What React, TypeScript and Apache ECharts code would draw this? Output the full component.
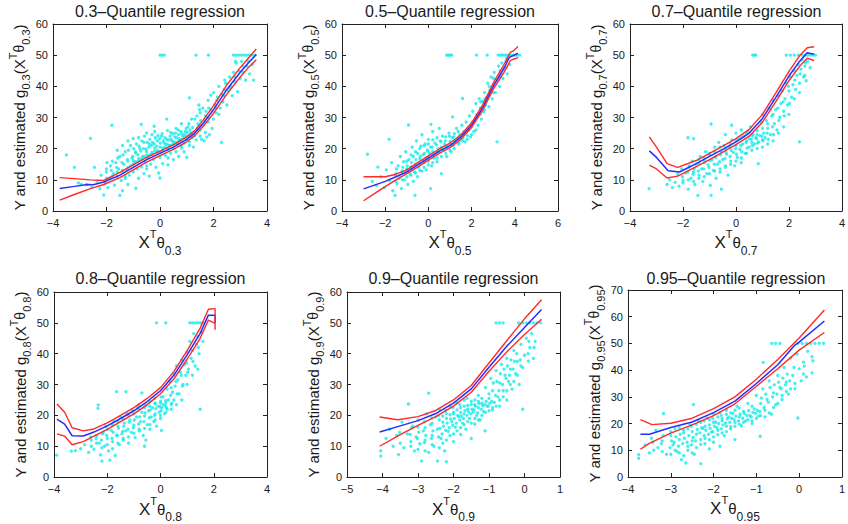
import React, { useEffect, useRef } from 'react';
import * as echarts from 'echarts';

// ---------- data ----------
const quantiles = ['0.3', '0.5', '0.7', '0.8', '0.9', '0.95'];
const xMins = [-4, -4, -4, -4, -5, -4];
const xMaxs = [4, 6, 4, 4, 1, 1];
const xSteps = [2, 2, 2, 2, 1, 1];
const yMaxs = [60, 60, 60, 60, 60, 70];
const ySteps = [10, 10, 10, 10, 10, 10];

const pts03 = [[-3.5,18],[-3.2,14],[-3.05,9],[-2.95,8.6],[-2.75,8.5],[-2.6,23.3],[-2.55,7.6],[-2.45,14],[-2.35,9.5],[-2.25,7.2],[-2.2,11.5],[-2.1,5.1],[-2.05,9],[-2,12.5],[-1.95,7.5],[-1.9,10.5],[-1.85,14.5],[-1.8,27.5],[-1.75,12],[-1.7,8.3],[-1.65,15.5],[-1.6,11],[-1.55,13.5],[-1.5,5],[-1.5,17.5],[-1.45,9.8],[-1.4,6.5],[-1.4,12.8],[-1.35,15],[-1.3,10.5],[-1.3,19],[-1.25,13.2],[-1.2,8.5],[-1.2,16],[-1.15,11.5],[-1.1,14.5],[-1.1,21],[-1.05,17],[-1,12.5],[-1,23.2],[-0.95,15.5],[-0.9,7.3],[-0.9,18.5],[-0.85,13.5],[-0.8,16.8],[-0.8,10.5],[-0.75,20],[-0.7,14.2],[-0.7,27.8],[-0.65,17.5],[-0.6,12],[-0.6,22],[-0.55,15.8],[-0.5,19],[-0.5,13.5],[-0.45,17],[-0.4,21.5],[-0.4,11.2],[-0.35,15],[-0.3,18.2],[-0.3,24.5],[-0.25,16.5],[-0.22,27.2],[-0.2,20.2],[-0.15,14],[-0.1,18.8],[-0.1,22.5],[-0.05,12.2],[0,17.2],[0,10.6],[0,20.5],[0.05,24],[0.1,19.5],[0.1,15.2],[0.15,21.8],[0.2,17.8],[0.25,29.5],[0.25,23],[0.3,19.8],[0.3,14.8],[0.35,21],[0.4,25.2],[0.4,18.5],[0.45,22.4],[0.5,20],[0.5,16.5],[0.55,23.8],[0.6,19],[0.6,26.5],[0.65,21.5],[0.7,24.5],[0.7,17.5],[0.75,22.5],[0.8,20.3],[0.8,28],[0.85,24],[0.9,21.8],[0.9,19],[0.95,25.5],[1,23],[1,17.2],[1.05,27],[1.1,36.3],[1.1,22.2],[1.15,25],[1.2,23.5],[1.25,20.5],[1.3,24.2],[1.3,29.5],[1.35,22.8],[1.4,26.5],[1.45,34],[1.5,24],[1.5,31.5],[1.55,23],[1.6,27.5],[1.6,33],[1.65,22.5],[1.7,25.2],[1.7,30.5],[1.75,23.8],[1.8,35.5],[1.8,28.5],[1.85,24.5],[1.9,32.5],[1.9,37.2],[1.95,26.5],[2,38],[2,29.5],[2.05,34],[2.1,31.5],[2.15,36.5],[2.2,40],[2.25,33],[2.3,22],[2.3,37.5],[2.35,35],[2.4,39],[2.45,41],[2.5,34],[2.55,38.5],[2.6,43],[2.65,40],[2.7,37],[2.75,44.5],[2.8,41.5],[2.85,47.5],[2.9,38.3],[2.95,45],[3,42.5],[3.05,48],[3.1,44.5],[3.2,42],[3.25,46.5],[3.35,44],[3.45,47],[3.5,42],[0,50],[0.08,50],[0.16,50],[1.35,50],[1.81,50],[2.75,50],[2.85,50],[2.95,50],[3.05,50],[3.15,50],[3.25,50],[3.35,50],[3.45,50],[3.55,50]];
const core03 = [[-2,10.5],[-2,13.5],[-1.98,15.5],[-1.8,11],[-1.82,13],[-1.78,16],[-1.6,12.5],[-1.62,14],[-1.58,17],[-1.6,19.5],[-1.4,13],[-1.42,15.5],[-1.38,18],[-1.4,21],[-1.2,14],[-1.22,16.5],[-1.18,19.5],[-1.2,22.5],[-1,15],[-1.02,17.5],[-0.98,20],[-1,16.2],[-0.9,15.8],[-0.92,19],[-0.88,21.5],[-0.8,16],[-0.82,18],[-0.78,20.8],[-0.8,23.5],[-0.7,16.8],[-0.72,19.2],[-0.68,22.5],[-0.6,17.5],[-0.62,20],[-0.58,24],[-0.5,17.8],[-0.52,19.8],[-0.48,22],[-0.5,25],[-0.4,18],[-0.42,20.5],[-0.38,23],[-0.3,18.8],[-0.32,21],[-0.28,22],[-0.2,19.2],[-0.22,21.5],[-0.18,23.5],[-0.2,25.5],[-0.1,19.5],[-0.12,20.8],[-0.08,24.2],[0.02,19],[0.01,21.8],[-0.02,23.2],[0.1,20.2],[0.12,22.5],[0.08,24.8],[0.2,20.5],[0.22,21.5],[0.18,23.5],[0.3,21.2],[0.32,22.8],[0.28,25.8],[0.4,21],[0.42,23],[0.38,24],[0.5,21.5],[0.52,22.2],[0.48,24.8],[0.6,22],[0.62,23.5],[0.58,25],[0.7,22.5],[0.72,23.2],[0.68,26],[0.8,23],[0.82,24.8],[0.78,25.5],[0.9,23.5],[0.92,24.5],[1,24],[1.02,25.2],[0.98,26.5],[1.1,24.2],[1.12,26],[1.08,28],[1.2,25],[1.22,26.8],[1.18,29.5],[1.4,26.2],[1.42,28],[1.38,30.5],[1.5,27],[1.52,29],[1.48,32.5],[1.7,28.5],[1.72,32],[1.8,30],[1.82,33],[2.1,33],[2.12,35.5],[2.4,37],[2.42,42],[2.6,39.5],[2.8,43],[2.82,48],[3.1,46.5],[3.3,48],[-0.5,14.5],[0.3,17],[0.8,21],[1.1,21],[1.5,26],[2.2,31],[-1.3,11]];
const fit03 = [[-3.75,7.2],[-3.2,7.9],[-2.7,8.5],[-2.5,8.4],[-2.1,9.3],[-1.5,11.5],[-1,14],[-0.5,16.5],[0,18.5],[0.5,20.5],[1,23],[1.3,25],[1.6,28],[2,32.5],[2.5,39],[3,44.5],[3.3,47.5],[3.6,50.2]];
const up03 = [[-3.75,10.7],[-3.2,10.4],[-2.6,10],[-2.1,9.8],[-1.5,12.4],[-1,14.8],[-0.5,17.2],[0,19.2],[0.5,21.2],[1,23.8],[1.3,25.8],[1.6,29],[2,33.8],[2.5,40.5],[3,46],[3.3,49],[3.6,52]];
const lo03 = [[-3.75,3.5],[-3.2,5.3],[-2.6,7.2],[-2.1,8.5],[-1.5,10.7],[-1,13.2],[-0.5,15.7],[0,17.8],[0.5,19.8],[1,22.2],[1.3,24.2],[1.6,27],[2,31.3],[2.5,37.5],[3,43],[3.3,46],[3.6,48.5]];

const pts05 = [[-2.82,18.2],[-2.34,14.1],[-2.6,9.5],[-2.4,8.2],[-2.2,11],[-2.05,7.5],[-1.95,13.2],[-1.82,23],[-1.8,9.8],[-1.7,15.5],[-1.65,6.5],[-1.54,5],[-1.5,12],[-1.45,8.8],[-1.4,14.5],[-1.35,10.5],[-1.3,17.5],[-1.25,7.2],[-1.2,12.8],[-1.15,15.8],[-1.1,10],[-1.05,19],[-1,13.5],[-0.95,8.5],[-0.92,27.6],[-0.9,16.5],[-0.85,11.8],[-0.8,14.2],[-0.75,20.5],[-0.7,9.5],[-0.7,17.5],[-0.65,12.5],[-0.62,5],[-0.6,15],[-0.55,22.5],[-0.5,18.5],[-0.5,11],[-0.45,14],[-0.4,16.8],[-0.35,20.8],[-0.3,12.8],[-0.3,24.5],[-0.25,18],[-0.2,15.5],[-0.15,21.5],[-0.1,17],[-0.1,13.2],[-0.05,19.5],[0,16],[0,23],[0.05,18.5],[0.1,7.2],[0.1,20.5],[0.12,27.8],[0.15,14.5],[0.2,19],[0.2,25.5],[0.25,17],[0.3,21.8],[0.35,18.2],[0.4,23.5],[0.4,15.8],[0.45,20],[0.5,26.5],[0.5,18.8],[0.55,22.5],[0.6,20.5],[0.6,12],[0.65,24],[0.7,19.5],[0.75,21.5],[0.8,23.8],[0.85,17.5],[0.9,20.8],[0.95,25],[1,22.3],[1.05,19],[1.1,23.5],[1.12,30.2],[1.15,21],[1.2,24.8],[1.25,22],[1.3,26.5],[1.35,23.2],[1.4,21.5],[1.45,24.5],[1.5,22.8],[1.55,27.5],[1.58,36.1],[1.6,23.5],[1.65,25.5],[1.7,22.2],[1.75,28.5],[1.8,24.2],[1.85,26],[1.9,30.5],[1.95,23.8],[2,27.2],[2.05,32],[2.1,25.5],[2.15,29],[2.2,34.5],[2.25,31],[2.3,27.5],[2.35,36],[2.4,33],[2.45,29.5],[2.5,35.2],[2.55,31.8],[2.6,38],[2.65,34],[2.7,36.5],[2.75,41],[2.8,33.5],[2.85,38.8],[2.9,43],[2.95,36],[3,40.5],[3.05,44.5],[3.1,38],[3.18,22.2],[3.2,42],[3.25,46.5],[3.3,40],[3.35,44],[3.4,47.5],[3.45,42.5],[3.5,45.8],[3.6,48.2],[3.65,44],[3.75,47],[0.85,50],[0.93,50],[1,50],[1.08,50],[2.23,50],[2.72,50],[3.23,50],[3.33,50],[3.43,50],[3.53,50],[3.63,50],[3.73,50],[3.83,50],[3.93,50],[4.03,50],[4.13,50],[4.23,50]];
const core05 = [[-1.5,9.5],[-1.52,11.5],[-1.48,13.5],[-1.2,10],[-1.22,12.5],[-1.18,14],[-1,11],[-1.02,13],[-0.98,14.5],[-1,16],[-0.8,11.5],[-0.82,13.8],[-0.78,15.5],[-0.8,18],[-0.6,12.2],[-0.62,14.5],[-0.58,16.5],[-0.6,19],[-0.4,13],[-0.42,15.2],[-0.38,17.5],[-0.4,20],[-0.2,14],[-0.22,16.2],[-0.18,18.5],[-0.2,21],[0,14.8],[0.02,17.5],[-0.02,19.2],[0,21.5],[0.2,15.5],[0.22,17.8],[0.18,20.5],[0.2,22.8],[0.4,17],[0.42,19],[0.38,21.2],[0.6,17.5],[0.62,19.8],[0.58,22.2],[0.8,18.5],[0.82,20.5],[0.78,22.5],[1,19.5],[1.02,21.5],[0.98,24],[1.2,20],[1.22,22.5],[1.18,23.8],[1.4,22],[1.42,23.8],[1.38,25.5],[1.6,22.5],[1.62,24.8],[1.8,23],[1.82,26.5],[2,24.5],[2.02,28.5],[2.2,26],[2.22,30],[2.4,31],[2.42,35],[2.6,32.5],[2.62,36],[2.8,37],[2.82,40],[3,38],[3.02,42.5],[3.3,43],[3.32,45],[3.6,46],[3.62,49]];
const fit05 = [[-3,7.1],[-2.5,8.3],[-2,9.5],[-1.5,11],[-1,12.5],[-0.5,14.8],[0,17],[0.5,19.2],[1,21],[1.5,23.7],[2,27.5],[2.5,33],[3,40],[3.5,45.8],[3.75,49.3],[4.15,50.6]];
const up05 = [[-3,11],[-2.5,11],[-2,11],[-1.5,11.8],[-1,13.2],[-0.5,15.5],[0,17.7],[0.5,19.9],[1,21.8],[1.5,24.4],[2,28.3],[2.5,33.9],[3,41],[3.5,47],[3.8,51],[3.9,51.2],[4.15,52.8]];
const lo05 = [[-3,3.3],[-2.5,5.6],[-2,7.8],[-1.5,10],[-1,12],[-0.5,14.1],[0,16.3],[0.5,18.5],[1,20.3],[1.5,23],[2,26.8],[2.5,32.2],[3,39],[3.5,44.5],[3.8,48.3],[3.9,48.6],[4.15,49.2]];

const pts07 = [[-3.28,7.2],[-2.6,8.5],[-2.5,10],[-2.4,7.5],[-2.3,9.2],[-2.2,11.8],[-2.15,8],[-2.05,13.5],[-2,9.8],[-1.9,12.2],[-1.81,23.5],[-1.8,7],[-1.75,14.5],[-1.7,10.5],[-1.65,16],[-1.6,23.2],[-1.6,12.5],[-1.55,8.5],[-1.5,15],[-1.44,5],[-1.4,11.5],[-1.35,17.5],[-1.3,13.5],[-1.25,9.5],[-1.2,16.2],[-1.15,19],[-1.1,12],[-1.05,14.8],[-1,18],[-0.97,8.2],[-0.94,5],[-0.94,27.9],[-0.9,16.5],[-0.85,13],[-0.8,20.5],[-0.75,10.5],[-0.75,17.5],[-0.7,15],[-0.65,22],[-0.6,12.5],[-0.55,19],[-0.55,7],[-0.5,16.5],[-0.45,21],[-0.4,14],[-0.4,24.5],[-0.35,18.2],[-0.3,11.5],[-0.25,20.5],[-0.2,16],[-0.16,27.5],[-0.15,22.8],[-0.1,18.8],[-0.05,14.5],[0,21],[0,25],[0.05,17.2],[0.1,23],[0.15,19.8],[0.2,26],[0.2,15.5],[0.25,21.5],[0.3,24],[0.35,18.5],[0.4,22.5],[0.45,25.5],[0.5,20.5],[0.5,23.2],[0.55,27],[0.6,22],[0.65,24.5],[0.7,21.5],[0.75,23.5],[0.8,25.8],[0.84,15.2],[0.85,22.2],[0.9,24.2],[0.95,28.5],[1,22.8],[1,31],[1.05,25],[1.1,23.5],[1.15,29],[1.2,26.5],[1.25,33],[1.3,24.5],[1.35,30.5],[1.4,35.5],[1.45,28],[1.5,32.5],[1.55,26],[1.6,37],[1.65,30],[1.7,34.5],[1.75,38.5],[1.8,32],[1.85,36],[1.9,41],[1.95,34],[2,38.5],[2.05,43],[2.1,36.5],[2.15,40.5],[2.2,45],[2.25,39],[2.3,43.5],[2.35,47],[2.4,22.2],[2.4,41],[2.45,45.5],[2.5,48.5],[2.55,43],[2.6,46.5],[2.65,41.8],[2.7,48],[2.8,46],[0.63,50],[0.7,50],[0.75,50],[1.9,50],[2.05,50],[2.2,50],[2.35,50],[2.5,50],[2.6,50],[2.7,50],[2.8,50],[2.9,50],[3,50]];
const core07 = [[-2,9],[-2.02,11],[-1.8,10],[-1.82,12.5],[-1.78,14],[-1.6,9.5],[-1.62,11.8],[-1.58,13.5],[-1.4,10.5],[-1.42,12.8],[-1.38,15.2],[-1.4,16.5],[-1.2,11],[-1.22,13.5],[-1.18,15.5],[-1.2,17],[-1,12],[-1.02,14],[-0.98,16.2],[-1,18.5],[-0.8,12.8],[-0.82,15],[-0.78,17.2],[-0.8,19],[-0.6,13.5],[-0.62,15.8],[-0.58,18],[-0.6,20.5],[-0.4,14.5],[-0.42,16.8],[-0.38,18.8],[-0.4,20],[-0.2,15],[-0.22,17.5],[-0.18,19.5],[-0.2,21.5],[0,16],[0.02,18.2],[-0.02,20],[0,22.5],[0.2,17],[0.22,19],[0.18,21],[0.2,23.5],[0.4,18.5],[0.42,20.2],[0.38,22],[0.4,24.8],[0.6,19.5],[0.62,21],[0.58,23],[0.6,24.2],[0.8,20],[0.82,21.8],[0.78,23.2],[0.8,24.5],[1,20.5],[1.02,22.5],[0.98,24],[1,26.5],[1.2,21.5],[1.22,23],[1.18,25],[1.2,28],[1.4,22.5],[1.42,24.5],[1.38,27],[1.4,31],[1.6,25],[1.62,29],[1.58,33],[1.8,27],[1.82,30.5],[1.78,35],[2,31],[2.02,34.5],[1.98,40],[2.2,36],[2.22,42],[2.4,38],[2.42,44],[2.6,43.5],[2.62,47.5]];
const fit07 = [[-3.27,19.3],[-3,17.2],[-2.56,12.9],[-2.13,12.5],[-1.5,15.2],[-1,17.5],[-0.5,19.8],[0,22.2],[0.5,25],[1,29.7],[1.5,36.4],[2,43.3],[2.4,48],[2.69,50.8],[2.95,50.3]];
const up07 = [[-3.27,23.8],[-3,20.5],[-2.6,15.2],[-2.2,14],[-1.5,16.2],[-1,18.5],[-0.5,20.8],[0,23.2],[0.5,26.2],[1,31],[1.5,37.8],[2,44.8],[2.4,49.8],[2.69,52.4],[2.95,52.7]];
const lo07 = [[-3.27,14.7],[-3,13.5],[-2.6,10.6],[-2.2,11.2],[-1.5,14.2],[-1,16.5],[-0.5,18.9],[0,21.3],[0.5,24],[1,28.5],[1.5,35],[2,41.8],[2.4,46.4],[2.69,49],[2.95,48.3]];

const pts08 = [[-3.9,7.1],[-3.35,8.4],[-3.2,8.6],[-3,9.2],[-2.85,10.5],[-2.7,8],[-2.6,12],[-2.5,9],[-2.4,13.5],[-2.34,23.4],[-2.35,22.3],[-2.3,11],[-2.25,7.2],[-2.2,5.2],[-2.15,14.5],[-2.1,10],[-2.05,16.5],[-2,12.5],[-1.95,8.5],[-1.9,5.5],[-1.85,15.2],[-1.8,11.5],[-1.75,18],[-1.7,7],[-1.65,27.7],[-1.65,13.5],[-1.6,16.5],[-1.55,10.5],[-1.5,19.5],[-1.45,14],[-1.4,12],[-1.35,17.5],[-1.3,27.7],[-1.3,15],[-1.25,20.5],[-1.2,11],[-1.15,18.5],[-1.1,14.5],[-1.05,21.5],[-1,16.8],[-0.95,12.8],[-0.9,19.5],[-0.85,22.5],[-0.8,15.5],[-0.75,18],[-0.7,27.3],[-0.7,21],[-0.65,13.5],[-0.6,10],[-0.6,19.8],[-0.55,23.2],[-0.55,12],[-0.5,17],[-0.45,21.5],[-0.4,24.5],[-0.4,15.5],[-0.35,19.5],[-0.3,22.5],[-0.25,18],[-0.2,24],[-0.2,20.5],[-0.15,16.5],[-0.1,23],[-0.05,21],[0,24.5],[0,19],[0.04,15.1],[0.05,22.5],[0.1,26],[0.1,23.5],[0.15,20.5],[0.2,24.2],[0.25,28.5],[0.25,22],[0.3,25],[0.35,31],[0.4,23.5],[0.45,27.5],[0.5,33.5],[0.5,25],[0.55,29.5],[0.6,36],[0.65,31.5],[0.7,27],[0.75,34],[0.8,38],[0.85,30],[0.9,36.5],[0.95,33],[1,40.5],[1.05,35],[1.1,44],[1.15,38.5],[1.2,41],[1.25,46.5],[1.3,36],[1.35,43],[1.4,45.5],[1.45,40],[1.49,22],[1.55,47],[1.6,44],[-0.15,50],[0.2,50],[1.1,50],[1.2,50],[1.3,50],[1.4,50],[1.5,50],[1.6,50]];
const core08 = [[-2.6,10],[-2.62,13],[-2.4,11],[-2.42,12.5],[-2.2,9.5],[-2.22,12],[-2.18,14],[-2,10.5],[-2.02,13.5],[-1.98,15.5],[-1.8,9.2],[-1.82,12.5],[-1.78,14.5],[-1.8,16.8],[-1.6,11],[-1.62,13.5],[-1.58,15.8],[-1.6,18],[-1.4,12.5],[-1.42,14.8],[-1.38,16.5],[-1.4,18.8],[-1.2,13],[-1.22,15.5],[-1.18,17.8],[-1.2,20],[-1,14.2],[-1.02,16],[-0.98,18.5],[-1,20.5],[-0.8,15],[-0.82,17.2],[-0.78,19.5],[-0.8,21.8],[-0.82,23.5],[-0.6,15.8],[-0.62,18],[-0.58,20.8],[-0.6,22.5],[-0.4,17],[-0.42,19.2],[-0.38,21.8],[-0.4,23],[-0.2,18.5],[-0.22,20],[-0.18,22.2],[-0.2,23.8],[-0.22,25.5],[0,20],[0.02,21.5],[-0.02,22.8],[0,24],[0.02,26],[0.2,21],[0.22,22.5],[0.18,23.2],[0.2,24.8],[0.4,22],[0.42,24],[0.38,26.5],[0.4,29],[0.6,23.5],[0.62,27],[0.58,31],[0.8,25],[0.82,29.5],[0.78,33],[1,30],[1.02,34],[0.98,37],[1.2,33],[1.22,37.5],[1.4,35],[1.42,42]];
const fit08 = [[-3.89,18.8],[-3.6,17.2],[-3.32,13.4],[-2.9,13.3],[-2.5,14.6],[-2,16.6],[-1.5,19],[-1,21.5],[-0.5,24.5],[0,28],[0.5,33],[1,39.6],[1.49,46.6],[1.8,52.5],[2.05,52.5],[2.05,50]];
const up08 = [[-3.89,23.7],[-3.6,21],[-3.32,16],[-2.9,15],[-2.5,15.6],[-2,17.6],[-1.5,20],[-1,22.5],[-0.5,25.5],[0,29],[0.5,34.2],[1,41],[1.49,48.3],[1.8,54.4],[2.05,54.6],[2.05,47.8]];
const lo08 = [[-3.89,14],[-3.6,13.3],[-3.32,10.5],[-2.9,11.5],[-2.5,13.3],[-2,15.5],[-1.5,18],[-1,20.5],[-0.5,23.5],[0,27],[0.5,31.8],[1,38.2],[1.49,45],[1.8,50.9],[2.05,49.8]];

const pts09 = [[-4.05,6.8],[-4.05,8.5],[-3.9,12.5],[-3.8,15.5],[-3.7,10],[-3.6,13.5],[-3.55,7.3],[-3.45,17.8],[-3.4,9.5],[-3.3,14],[-3.27,23.7],[-3.2,11.5],[-3.15,16.5],[-3.1,8.5],[-3.05,13],[-3,18.5],[-2.95,10.8],[-2.9,5.2],[-2.85,15],[-2.8,12],[-2.75,20.5],[-2.7,27.2],[-2.7,8],[-2.65,17],[-2.6,13.5],[-2.55,10],[-2.5,19.5],[-2.45,5.2],[-2.45,15.5],[-2.4,22],[-2.35,12.5],[-2.3,17.8],[-2.25,8.5],[-2.2,20.5],[-2.2,5],[-2.15,14.8],[-2.1,23],[-2.05,18],[-2,11.5],[-2,21],[-1.95,16.2],[-1.9,24],[-1.85,19.5],[-1.8,13.8],[-1.8,22.5],[-1.75,17.5],[-1.7,25],[-1.7,20.5],[-1.65,15.5],[-1.6,22],[-1.55,19],[-1.5,24.5],[-1.5,12.5],[-1.45,21],[-1.4,17.2],[-1.4,23.5],[-1.35,20],[-1.3,26.5],[-1.3,22.5],[-1.25,18.5],[-1.2,24],[-1.15,21.2],[-1.11,15],[-1.1,29],[-1.05,23],[-1,25.5],[-0.95,32],[-0.9,21.8],[-0.9,28],[-0.85,24.2],[-0.8,34.5],[-0.75,26],[-0.7,30.5],[-0.7,23],[-0.65,36.5],[-0.6,28],[-0.55,33],[-0.5,25],[-0.5,38.5],[-0.45,31],[-0.4,35],[-0.35,28.5],[-0.3,41],[-0.25,33.5],[-0.2,37.5],[-0.15,30],[-0.1,43],[-0.05,35.5],[-0.05,22],[0,39.5],[0.05,45],[0.11,37.6],[0.15,42],[0.2,46.5],[0.3,44],[-0.8,50],[-0.7,50],[-0.6,50],[-0.17,50],[-0.05,50],[0.05,50],[0.15,50],[0.25,50],[0.35,50],[0.45,50]];
const core09 = [[-3.5,11],[-3.52,14.5],[-3.2,10],[-3.22,13.8],[-3.18,16],[-3,9],[-3.02,12.5],[-2.98,14.5],[-3,16.2],[-2.8,8.5],[-2.82,11.2],[-2.78,13.5],[-2.8,16],[-2.82,18],[-2.6,10.5],[-2.62,12.5],[-2.58,15],[-2.6,17.5],[-2.62,19.2],[-2.4,9.5],[-2.42,13],[-2.38,15.8],[-2.4,18.5],[-2.42,20],[-2.3,11],[-2.32,14],[-2.28,16.5],[-2.3,19.8],[-2.2,12],[-2.22,15.2],[-2.18,17.5],[-2.2,19],[-2.22,21.5],[-2.1,13.5],[-2.12,16],[-2.08,18.8],[-2.1,20.2],[-2,14],[-2.02,16.8],[-1.98,19],[-2,20.5],[-2.02,22.5],[-1.9,15],[-1.92,17.5],[-1.88,20],[-1.9,21.8],[-1.8,16],[-1.82,18.5],[-1.78,19.8],[-1.8,21],[-1.82,23.5],[-1.7,17],[-1.72,19],[-1.68,21.5],[-1.7,23],[-1.6,18],[-1.62,20],[-1.58,21.2],[-1.6,23.2],[-1.62,25.5],[-1.5,17.5],[-1.52,20.5],[-1.48,22],[-1.5,23.5],[-1.4,19],[-1.42,21.8],[-1.38,23],[-1.4,25],[-1.3,18.5],[-1.32,20.8],[-1.28,23.8],[-1.3,24.5],[-1.2,20],[-1.22,22],[-1.18,23.2],[-1.2,25.5],[-1.1,21],[-1.12,23.5],[-1.08,24.5],[-1,21.5],[-1.02,23],[-0.98,24],[-1,27],[-0.9,22.5],[-0.92,24.5],[-0.88,30.5],[-0.8,23],[-0.82,26.5],[-0.78,31],[-0.7,25],[-0.72,28],[-0.68,33.5],[-0.6,26],[-0.62,30],[-0.58,35],[-0.5,28],[-0.52,32],[-0.48,36],[-0.4,30],[-0.42,33],[-0.38,38],[-0.3,31],[-0.32,35],[-0.28,37.5],[-0.2,33],[-0.22,40],[-0.1,36],[-0.12,38],[0.1,40],[0.12,44],[0.25,38.5],[0.27,42]];
const fit09 = [[-4.08,14.6],[-3.5,16.6],[-3,18.3],[-2.5,20.6],[-2,24],[-1.5,28.6],[-1,35.6],[-0.5,42.4],[0,48.5],[0.48,54.3]];
const up09 = [[-4.08,19.5],[-3.57,18.6],[-3,19.6],[-2.5,21.6],[-2,25],[-1.5,29.7],[-1,37],[-0.5,44.2],[0,51.3],[0.48,57.5]];
const lo09 = [[-4.08,10],[-3.5,13.8],[-3,16.8],[-2.5,19.6],[-2,23],[-1.5,27.5],[-1,34.3],[-0.5,40.6],[0,46.2],[0.48,51.2]];

const pts095 = [[-3.75,8.4],[-3.75,7],[-3.6,12],[-3.5,9],[-3.45,14.5],[-3.35,17.5],[-3.3,11],[-3.2,13.5],[-3.17,23.75],[-3.1,8.5],[-3,15.5],[-2.95,12],[-2.9,18],[-2.85,9.5],[-2.8,14],[-2.75,6.5],[-2.7,16.5],[-2.65,5.25],[-2.6,11.5],[-2.55,19.5],[-2.5,13.5],[-2.47,27.1],[-2.45,8.5],[-2.4,16],[-2.35,21],[-2.3,5],[-2.3,12.2],[-2.25,18.2],[-2.2,14.5],[-2.15,22],[-2.1,10.5],[-2.1,19.5],[-2.05,16.8],[-2,13],[-2,23.5],[-1.95,20.5],[-1.9,17.5],[-1.85,24],[-1.85,11.5],[-1.8,21.8],[-1.75,15.5],[-1.7,19],[-1.7,25],[-1.65,22.5],[-1.6,18],[-1.55,23.8],[-1.5,20.5],[-1.5,14],[-1.45,26.5],[-1.4,22.5],[-1.35,19.2],[-1.3,24.5],[-1.25,21],[-1.2,27.5],[-1.15,23],[-1.1,20],[-1.05,25.5],[-1,30.5],[-0.95,22.8],[-0.91,15.25],[-0.9,27.5],[-0.85,33],[-0.84,42.9],[-0.8,25],[-0.75,29],[-0.7,36],[-0.65,23.5],[-0.6,31.5],[-0.55,27],[-0.5,38],[-0.45,33.5],[-0.4,29],[-0.35,41],[-0.3,35.5],[-0.25,31],[-0.2,44.5],[-0.15,38],[-0.1,33],[-0.05,46],[-0.03,22.1],[0,40.5],[0.05,36],[0.1,43],[0.17,37.5],[0.2,47],[0.3,45],[-0.64,50],[-0.55,50],[-0.45,50],[-0.03,50],[0.07,50],[0.17,50],[0.27,50],[0.37,50],[0.47,50],[0.57,50]];
const core095 = [[-3.4,10],[-3.42,13],[-3.2,9.5],[-3.22,12.5],[-3.18,15.5],[-3,8.5],[-3.02,11],[-2.98,13.5],[-3,17],[-2.9,10],[-2.92,13],[-2.88,15],[-2.8,9],[-2.82,11.5],[-2.78,16],[-2.8,18.5],[-2.7,8],[-2.72,12.5],[-2.68,14.5],[-2.7,17.5],[-2.6,10],[-2.62,13],[-2.58,15.5],[-2.6,18],[-2.5,9],[-2.52,12],[-2.48,14.8],[-2.5,17],[-2.52,19],[-2.4,11],[-2.42,13.5],[-2.38,17.8],[-2.4,19.8],[-2.3,14],[-2.32,16.5],[-2.28,18.5],[-2.3,20.5],[-2.2,12.5],[-2.22,15.5],[-2.18,17.5],[-2.2,19],[-2.22,21],[-2.1,14],[-2.12,16],[-2.08,18.2],[-2.1,21.5],[-2,15],[-2.02,17],[-1.98,19],[-2,20.5],[-2.02,22],[-1.9,15.8],[-1.92,18.5],[-1.88,20],[-1.9,22.5],[-1.8,16.5],[-1.82,18],[-1.78,19.5],[-1.8,21],[-1.82,23],[-1.7,17],[-1.72,20.2],[-1.68,21.8],[-1.7,23.5],[-1.6,18.8],[-1.62,20.5],[-1.58,22],[-1.6,24],[-1.5,19],[-1.52,21.5],[-1.48,22.8],[-1.5,25],[-1.4,19.8],[-1.42,21],[-1.38,23.5],[-1.4,25.8],[-1.3,20.5],[-1.32,22],[-1.28,23.8],[-1.2,21.5],[-1.22,23],[-1.18,24.8],[-1.1,21],[-1.12,22.5],[-1.08,24.2],[-1.1,26.5],[-1,22],[-1.02,23.8],[-0.98,25],[-0.9,23],[-0.92,24.5],[-0.88,29.5],[-0.8,22.5],[-0.82,26],[-0.78,31],[-0.7,24],[-0.72,28],[-0.68,33.5],[-0.6,26],[-0.62,30],[-0.58,34.5],[-0.5,27.5],[-0.52,31],[-0.48,35.5],[-0.4,30.5],[-0.42,33],[-0.38,37],[-0.3,32],[-0.32,34.5],[-0.28,38.5],[-0.2,33],[-0.22,36],[-0.1,35],[-0.12,41],[0.1,38.5],[0.12,41.5],[0.3,39],[0.32,43.5]];
const fit095 = [[-3.71,16],[-3.5,16],[-3,18.5],[-2.5,20.6],[-2,24.1],[-1.5,28.4],[-1,35],[-0.5,42],[-0.1,49.4],[0,50.5],[0.59,58.4]];
const up095 = [[-3.71,21.5],[-3.44,19.6],[-3,20.1],[-2.5,22],[-2,25.6],[-1.5,30],[-1,36.6],[-0.5,44],[0,52],[0.59,62.5]];
const lo095 = [[-3.71,10.4],[-3.5,12.6],[-3,16.4],[-2.5,19.5],[-2,23],[-1.5,27.4],[-1,34],[-0.5,40.5],[0,47.5],[0.59,54.1]];

const scatterSets = [pts03.concat(core03), pts05.concat(core05), pts07.concat(core07), pts08.concat(core08), pts09.concat(core09), pts095.concat(core095)];
const fitSets = [fit03, fit05, fit07, fit08, fit09, fit095];
const upperSets = [up03, up05, up07, up08, up09, up095];
const lowerSets = [lo03, lo05, lo07, lo08, lo09, lo095];

// ---------- layout ----------
const GRIDS = [
  { left: 53, top: 24, width: 214, height: 187 },
  { left: 342, top: 24, width: 216, height: 187 },
  { left: 630, top: 24, width: 213, height: 187 },
  { left: 54, top: 292, width: 213, height: 186 },
  { left: 347, top: 292, width: 213, height: 186 },
  { left: 628, top: 290, width: 216, height: 187 },
];
const TITLE_Y = [11, 11, 11, 278, 278, 278];

const FONT = '"Liberation Sans", Arial, Helvetica, sans-serif';
const TXT = '#1a1a1a';
const AX = '#222';
const CYAN = '#14eaea';
const BLUE = '#2a2aff';
const RED = '#ff2a2a';

const fmt = (v: number) => String(v).replace('-', '\u2212');

function buildOption() {
  const grid: any[] = [];
  const xAxis: any[] = [];
  const yAxis: any[] = [];
  const series: any[] = [];
  const graphic: any[] = [];

  const yRich = {
    m: { fontSize: 15, lineHeight: 24, fontFamily: FONT, color: TXT },
    s: { fontSize: 11, lineHeight: 11, verticalAlign: 'bottom', fontFamily: FONT, color: TXT },
    t: { fontSize: 11, lineHeight: 11, verticalAlign: 'top', fontFamily: FONT, color: TXT },
    th: { fontSize: 14, lineHeight: 17, fontFamily: FONT, color: TXT },
  };
  const xRich = {
    X: { fontSize: 17, lineHeight: 28, fontFamily: FONT, color: TXT },
    t: { fontSize: 11, lineHeight: 11, verticalAlign: 'top', fontFamily: FONT, color: TXT },
    th: { fontSize: 15, lineHeight: 18, fontFamily: FONT, color: TXT },
    s: { fontSize: 12, lineHeight: 11, verticalAlign: 'bottom', fontFamily: FONT, color: TXT },
  };

  GRIDS.forEach((g, i) => {
    const q = quantiles[i];
    grid.push({ ...g, show: false });
    const common = {
      gridIndex: i,
      type: 'value',
      splitLine: { show: false },
      axisLine: { show: true, onZero: false, lineStyle: { color: AX, width: 1 } },
      axisTick: { show: true, inside: true, length: 4, lineStyle: { color: AX, width: 1 } },
    };
    xAxis.push({
      ...common,
      position: 'bottom',
      min: xMins[i], max: xMaxs[i], interval: xSteps[i],
      axisLabel: { fontSize: 11, color: TXT, fontFamily: FONT, margin: 6, formatter: fmt },
      name: `{X|X}{t|T}{th|θ}{s|${q}}`,
      nameLocation: 'middle',
      nameGap: 13,
      nameTextStyle: { rich: xRich },
    });
    xAxis.push({
      ...common,
      position: 'top',
      min: xMins[i], max: xMaxs[i], interval: xSteps[i],
      axisLabel: { show: false },
    });
    yAxis.push({
      ...common,
      position: 'left',
      min: 0, max: yMaxs[i], interval: ySteps[i],
      axisLabel: { fontSize: 11, color: TXT, fontFamily: FONT, margin: 5, formatter: fmt },
      name: `{m|Y and estimated g}{s|${q}}{m|(X}{t|T}{th|θ}{s|${q}}{m|)}`,
      nameLocation: 'middle',
      nameGap: 22,
      nameTextStyle: { rich: yRich },
    });
    yAxis.push({
      ...common,
      position: 'right',
      min: 0, max: yMaxs[i], interval: ySteps[i],
      axisLabel: { show: false },
    });

    series.push({
      type: 'scatter',
      xAxisIndex: 2 * i, yAxisIndex: 2 * i,
      data: scatterSets[i],
      symbol: 'circle',
      symbolSize: 3.3,
      itemStyle: { color: CYAN },
      silent: true,
    });
    series.push({
      type: 'line', xAxisIndex: 2 * i, yAxisIndex: 2 * i,
      data: fitSets[i], showSymbol: false, symbol: 'none',
      lineStyle: { color: BLUE, width: 1.5 }, silent: true,
    });
    series.push({
      type: 'line', xAxisIndex: 2 * i, yAxisIndex: 2 * i,
      data: upperSets[i], showSymbol: false, symbol: 'none',
      lineStyle: { color: RED, width: 1.4 }, silent: true,
    });
    series.push({
      type: 'line', xAxisIndex: 2 * i, yAxisIndex: 2 * i,
      data: lowerSets[i], showSymbol: false, symbol: 'none',
      lineStyle: { color: RED, width: 1.4 }, silent: true,
    });

    graphic.push({
      type: 'text',
      x: g.left + g.width / 2,
      y: TITLE_Y[i],
      style: {
        text: `${q}\u2013Quantile regression`,
        fontSize: 16,
        fontFamily: FONT,
        fill: TXT,
        align: 'center',
        verticalAlign: 'middle',
        textAlign: 'center',
        textVerticalAlign: 'middle',
      },
    });
  });

  return {
    animation: false,
    backgroundColor: '#ffffff',
    grid, xAxis, yAxis, series, graphic,
  };
}

export default function App() {
  const ref = useRef<HTMLDivElement>(null);
  useEffect(() => {
    document.body.style.margin = '0';
    if (!ref.current) return;
    const chart = echarts.init(ref.current, undefined, { renderer: 'svg' });
    chart.setOption(buildOption() as any);
    return () => chart.dispose();
  }, []);
  return <div ref={ref} style={{ width: 848, height: 524 }} />;
}
